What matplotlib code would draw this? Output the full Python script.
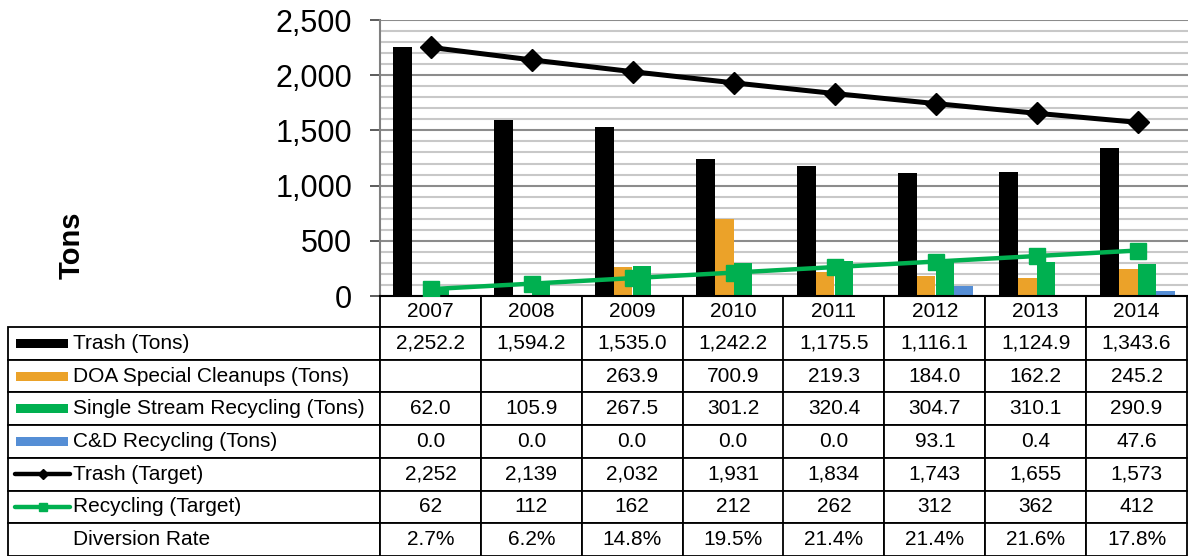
import numpy as np
import matplotlib
matplotlib.use('agg')
import matplotlib.pyplot as plt
from matplotlib.patches import Rectangle
from matplotlib.lines import Line2D
from matplotlib.ticker import MultipleLocator, FuncFormatter

plt.rcParams['font.family'] = ['Liberation Sans', 'DejaVu Sans']

years = ['2007', '2008', '2009', '2010', '2011', '2012', '2013', '2014']
trash = [2252.2, 1594.2, 1535.0, 1242.2, 1175.5, 1116.1, 1124.9, 1343.6]
doa_cleanups = [np.nan, np.nan, 263.9, 700.9, 219.3, 184.0, 162.2, 245.2]
single_stream = [62.0, 105.9, 267.5, 301.2, 320.4, 304.7, 310.1, 290.9]
cd_recycling = [0.0, 0.0, 0.0, 0.0, 0.0, 93.1, 0.4, 47.6]
trash_target = [2252, 2139, 2032, 1931, 1834, 1743, 1655, 1573]
recycling_target = [62, 112, 162, 212, 262, 312, 362, 412]
diversion_rate = [2.7, 6.2, 14.8, 19.5, 21.4, 21.4, 21.6, 17.8]

BLACK = '#000000'
ORANGE = '#EBA229'
GREEN = '#00B050'
BLUE = '#558ED5'

W, H = 1188, 556
fig = plt.figure(figsize=(W / 100, H / 100), dpi=100)

# plot area in pixels: x 380..1188, y 20..296 (from top)
px_l, px_r, px_t, px_b = 380, 1188, 20, 296
ax = fig.add_axes([px_l / W, 1 - px_b / H, (px_r - px_l) / W, (px_b - px_t) / H])


def to_ax(px, py):
    # pixel position (from top-left) to axes coordinates
    return (px - px_l) / (px_r - px_l), (px_b - py) / (px_b - px_t)


x = np.arange(len(years))
bw = 0.188
bar_series = [trash, doa_cleanups, single_stream, cd_recycling]
bar_colors = [BLACK, ORANGE, GREEN, BLUE]
for k, (vals, col) in enumerate(zip(bar_series, bar_colors)):
    ax.bar(x + (k - 1.5) * bw, np.nan_to_num(vals), width=bw, color=col, zorder=2)

ax.plot(x, trash_target, color=BLACK, lw=3.6, marker='D', markersize=11, zorder=4)
ax.plot(x, recycling_target, color=GREEN, lw=3.2, marker='s', markersize=12, zorder=4)

ax.set_xlim(-0.5, len(years) - 0.5)
ax.set_ylim(0, 2500)
ax.set_xticks([])
ax.yaxis.set_major_locator(MultipleLocator(500))
ax.yaxis.set_minor_locator(MultipleLocator(100))
ax.yaxis.set_major_formatter(FuncFormatter(lambda v, p: f'{v:,.0f}'))
ax.tick_params(axis='y', which='major', length=7, width=1.2, color='#404040',
               labelsize=22, pad=13)
ax.tick_params(axis='y', which='minor', length=0)
ax.grid(which='minor', axis='y', color='#c8c8c8', lw=1.5, zorder=0)
ax.grid(which='major', axis='y', color='#8c8c8c', lw=1.5, zorder=0)
ax.set_axisbelow(True)
for s in ['top', 'right']:
    ax.spines[s].set_visible(False)
ax.spines['left'].set_color('#808080')
ax.spines['left'].set_linewidth(1.5)
ax.spines['bottom'].set_color(BLACK)
ax.spines['bottom'].set_linewidth(1.5)

ax.set_ylabel('Tons', fontsize=21, fontweight='bold', labelpad=0)
ax.yaxis.set_label_coords(to_ax(86, 0)[0], to_ax(0, 245)[1])

# data table under the plot
row_labels = ['Trash (Tons)', 'DOA Special Cleanups (Tons)',
              'Single Stream Recycling (Tons)', 'C&D Recycling (Tons)',
              'Trash (Target)', 'Recycling (Target)', 'Diversion Rate']


def fmt1(v):
    return '' if np.isnan(v) else f'{v:,.1f}'


rows = [
    [fmt1(v) for v in trash],
    [fmt1(v) for v in doa_cleanups],
    [fmt1(v) for v in single_stream],
    [fmt1(v) for v in cd_recycling],
    [f'{v:,}' for v in trash_target],
    [f'{v:,}' for v in recycling_target],
    [f'{v:.1f}%' for v in diversion_rate],
]
cell_text = [[''] + years] + [[lab] + r for lab, r in zip(row_labels, rows)]

tbl_l, tbl_r, tbl_t, tbl_b = 8, 1187, 296, 556
bx0, by0 = to_ax(tbl_l, tbl_b)
bx1, by1 = to_ax(tbl_r, tbl_t)
tbl = ax.table(cellText=cell_text, cellLoc='center',
               bbox=[bx0, by0, bx1 - bx0, by1 - by0])
tbl.auto_set_font_size(False)
tbl.set_fontsize(15)
lab_w = px_l - tbl_l
col_w = (tbl_r - px_l) / len(years)
for (r, c), cell in tbl.get_celld().items():
    cell.set_linewidth(1.3)
    cell.set_edgecolor(BLACK)
    cell.set_width(lab_w if c == 0 else col_w)
    cell.set_height(31 if r == 0 else 32.7)
    if c == 0:
        cell.get_text().set_ha('left')
        cell._loc = 'left'
        cell.PAD = 65 / lab_w
    if r == 0 and c == 0:
        cell.visible_edges = ''

# legend keys in the label column
row_tops = [327 + 32.7 * i for i in range(7)]
for i, col in enumerate(bar_colors):
    cy = row_tops[i] + 16.3
    x0, y0 = to_ax(16, cy + 4.5)
    x1, y1 = to_ax(68, cy - 4.5)
    ax.add_patch(Rectangle((x0, y0), x1 - x0, y1 - y0, transform=ax.transAxes,
                           facecolor=col, edgecolor='none', clip_on=False))
for i, (col, mk, ms) in enumerate([(BLACK, 'D', 5), (GREEN, 's', 6)]):
    cy = row_tops[4 + i] + 16.3
    xa, ya = to_ax(15, cy)
    xb, _ = to_ax(70, cy)
    ax.add_line(Line2D([xa, xb], [ya, ya], transform=ax.transAxes, color=col,
                       lw=3.2, clip_on=False, solid_capstyle='round'))
    ax.add_line(Line2D([(xa + xb) / 2], [ya], transform=ax.transAxes, color=col,
                       marker=mk, markersize=ms, clip_on=False))

fig.savefig('out.png', dpi=100)
